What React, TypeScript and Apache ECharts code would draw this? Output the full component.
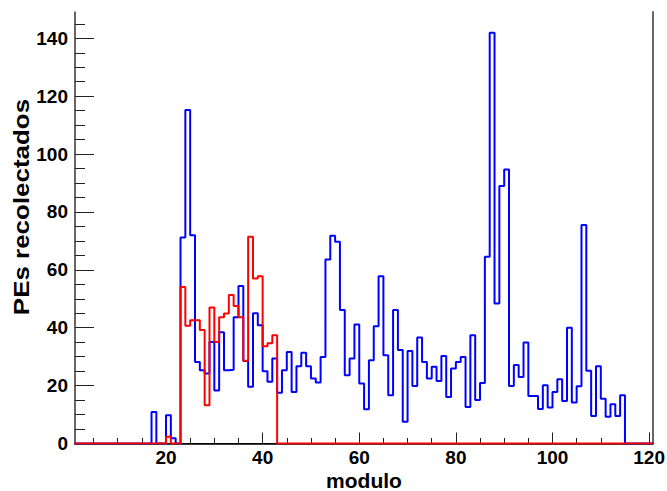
import React, { useEffect, useRef } from "react";
import * as echarts from "echarts";

// Histogram bins (left edge of each 1-wide bin of "modulo")
const binStarts: number[] = Array.from({ length: 120 }, (_, i) => i + 1);

// Blue histogram: PEs per module (bins 1..120)
const blueCounts: number[] = [
  0, 0, 0, 0, 0, 0, 0, 0, 0, 0,
  0, 0, 0, 0, 0, 0, 10.9, 0, 0, 9.8,
  1.8, 0, 71.2, 115.2, 72.0, 28.2, 25.3, 24.2, 35.1, 18.3,
  38.4, 25.3, 25.5, 43.6, 54.4, 28.5, 19.6, 45.0, 40.9, 25.0,
  21.3, 29.4, 17.5, 25.3, 31.6, 17.8, 26.7, 31.4, 26.7, 22.5,
  21.1, 29.9, 63.6, 71.8, 69.7, 46.1, 23.6, 29.4, 41.1, 20.7,
  11.8, 28.8, 40.5, 57.8, 30.5, 16.7, 46.1, 32.3, 7.5, 32.0,
  19.9, 36.6, 28.2, 22.5, 26.5, 21.6, 30.2, 16.1, 25.9, 28.2,
  29.9, 12.6, 37.4, 15.0, 20.9, 64.5, 141.9, 48.4, 89.0, 94.7,
  19.9, 27.1, 23.0, 34.9, 16.4, 16.4, 11.9, 20.1, 12.4, 17.8,
  22.2, 14.7, 40.0, 14.2, 19.8, 75.5, 25.1, 9.5, 26.7, 15.5,
  9.2, 13.6, 9.5, 16.7, 0, 0, 0, 0, 0, 0,
];

// Red histogram (bins 1..120)
const redCounts: number[] = [
  0, 0, 0, 0, 0, 0, 0, 0, 0, 0,
  0, 0, 0, 0, 0, 0, 0, 0, 0, 2.3,
  0, 0, 54.1, 40.7, 42.6, 42.6, 39.2, 13.2, 47.0, 35.1,
  43.6, 44.9, 51.3, 47.5, 43.6, 28.6, 71.4, 57.0, 57.8, 33.6,
  34.6, 37.4, 0, 0, 0, 0, 0, 0, 0, 0,
  0, 0, 0, 0, 0, 0, 0, 0, 0, 0,
  0, 0, 0, 0, 0, 0, 0, 0, 0, 0,
  0, 0, 0, 0, 0, 0, 0, 0, 0, 0,
  0, 0, 0, 0, 0, 0, 0, 0, 0, 0,
  0, 0, 0, 0, 0, 0, 0, 0, 0, 0,
  0, 0, 0, 0, 0, 0, 0, 0, 0, 0,
  0, 0, 0, 0, 0, 0, 0, 0, 0, 0,
];

const xMajorTicks: number[] = [20, 40, 60, 80, 100, 120];
const xMinorTicks: number[] = [5, 10, 15, 25, 30, 35, 45, 50, 55, 65, 70, 75, 85, 90, 95, 105, 110, 115];
const yMajorTicks: number[] = [0, 20, 40, 60, 80, 100, 120, 140];
const yMinorTicks: number[] = [5, 10, 15, 25, 30, 35, 45, 50, 55, 65, 70, 75, 85, 90, 95, 105, 110, 115, 125, 130, 135, 145];

const xTitle = "modulo";
const yTitle = "PEs recolectados";

const X_MIN = 1.16;
const X_MAX = 120.7;
const Y_MAX = 149.1;

const FONT = "Liberation Sans, Arial, Helvetica, sans-serif";

function histData(counts: number[]): number[][] {
  const pts = counts.map((v, i) => [binStarts[i], v]);
  const lastEdge = binStarts[binStarts.length - 1] + 1;
  pts.push([lastEdge, counts[counts.length - 1]]);
  return pts;
}

export default function App() {
  const ref = useRef<HTMLDivElement>(null);

  useEffect(() => {
    if (!ref.current) return;
    const chart = echarts.init(ref.current, undefined, { renderer: "svg" });
    const labelStyle = {
      fontFamily: FONT,
      fontWeight: "bold" as const,
      fontSize: 19,
      color: "#000",
    };
    chart.setOption({
      animation: false,
      backgroundColor: "#fff",
      grid: {
        left: 75,
        top: 12,
        width: 577.5,
        height: 431.5,
        containLabel: false,
        outerBoundsMode: "none",
      },
      xAxis: [
        {
          type: "value",
          min: X_MIN,
          max: X_MAX,
          position: "bottom",
          axisLine: { show: true, lineStyle: { color: "#000", width: 1 } },
          axisTick: { show: true, inside: true, length: 11, customValues: xMajorTicks, lineStyle: { color: "#222", width: 1 } },
          axisLabel: { show: true, customValues: xMajorTicks, margin: 4, ...labelStyle },
          splitLine: { show: false },
        },
        {
          type: "value",
          min: X_MIN,
          max: X_MAX,
          position: "bottom",
          axisLine: { show: false },
          axisTick: { show: true, inside: true, length: 5.5, customValues: xMinorTicks, lineStyle: { color: "#222", width: 1 } },
          axisLabel: { show: false },
          splitLine: { show: false },
        },
        {
          type: "value",
          min: X_MIN,
          max: X_MAX,
          position: "top",
          axisLine: { show: true, lineStyle: { color: "#000", width: 1.5 } },
          axisTick: { show: false },
          axisLabel: { show: false },
          splitLine: { show: false },
        },
      ],
      yAxis: [
        {
          type: "value",
          min: 0,
          max: Y_MAX,
          position: "left",
          axisLine: { show: true, lineStyle: { color: "#333", width: 1.5 } },
          axisTick: { show: true, inside: true, length: 19, customValues: yMajorTicks, lineStyle: { color: "#222", width: 1 } },
          axisLabel: { show: true, customValues: yMajorTicks, margin: 7, ...labelStyle },
          splitLine: { show: false },
        },
        {
          type: "value",
          min: 0,
          max: Y_MAX,
          position: "left",
          axisLine: { show: false },
          axisTick: { show: true, inside: true, length: 10, customValues: yMinorTicks, lineStyle: { color: "#222", width: 1 } },
          axisLabel: { show: false },
          splitLine: { show: false },
        },
        {
          type: "value",
          min: 0,
          max: Y_MAX,
          position: "right",
          axisLine: { show: true, lineStyle: { color: "#666", width: 2 } },
          axisTick: { show: false },
          axisLabel: { show: false },
          splitLine: { show: false },
        },
      ],
      series: [
        {
          name: "blue",
          type: "line",
          step: "end",
          xAxisIndex: 0,
          yAxisIndex: 0,
          data: histData(blueCounts),
          symbol: "none",
          lineStyle: { color: "#0000ff", width: 2 },
          z: 2,
        },
        {
          name: "red",
          type: "line",
          step: "end",
          xAxisIndex: 0,
          yAxisIndex: 0,
          data: histData(redCounts),
          symbol: "none",
          lineStyle: { color: "#ff0000", width: 2 },
          z: 3,
        },
      ],
      graphic: [
        {
          type: "text",
          x: 364,
          y: 480,
          style: {
            text: xTitle,
            fontFamily: FONT,
            fontWeight: "bold",
            fontSize: 21,
            fill: "#000",
            textAlign: "center",
            textVerticalAlign: "middle",
          },
        },
        {
          type: "text",
          x: 21,
          y: 207,
          rotation: Math.PI / 2,
          scaleX: 1.18,
          style: {
            text: yTitle,
            fontFamily: FONT,
            fontWeight: "bold",
            fontSize: 22,
            fill: "#000",
            textAlign: "center",
            textVerticalAlign: "middle",
          },
        },
      ],
    });
    return () => chart.dispose();
  }, []);

  return (
    <div
      ref={ref}
      style={{ position: "fixed", left: 0, top: 0, width: 667, height: 491, background: "#fff" }}
    />
  );
}
